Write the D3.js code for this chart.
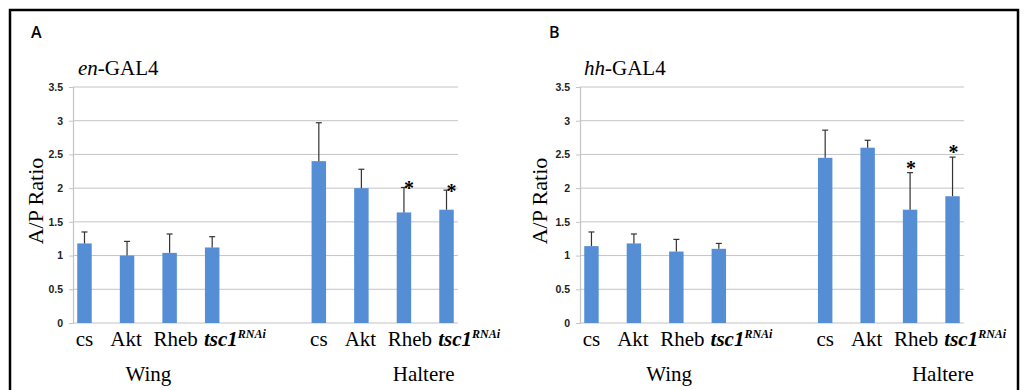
<!DOCTYPE html>
<html>
<head>
<meta charset="utf-8">
<script src="https://cdn.jsdelivr.net/npm/d3@7/dist/d3.min.js"></script>
<style>
  html, body { margin: 0; padding: 0; background: #fff; }
  svg { display: block; }
</style>
</head>
<body>
<svg id="chart" width="1025" height="390"></svg>
<script>
// ---- data ----
const groups = ["Wing", "Haltere"];
const genotypes = ["cs", "Akt", "Rheb", "tsc1"];
const panelLetters = ["A", "B"];
const drivers = ["en", "hh"];
const yTicks = [0, 0.5, 1, 1.5, 2, 2.5, 3, 3.5];
const yLabel = "A/P Ratio";

const enMeans  = [1.18, 1.00, 1.04, 1.12, 2.40, 2.00, 1.64, 1.68];
const enErrors = [0.17, 0.21, 0.28, 0.16, 0.57, 0.28, 0.37, 0.29];
const enStars  = [0, 0, 0, 0, 0, 0, 1, 1];

const hhMeans  = [1.14, 1.18, 1.06, 1.10, 2.45, 2.60, 1.68, 1.88];
const hhErrors = [0.21, 0.14, 0.18, 0.08, 0.41, 0.11, 0.55, 0.58];
const hhStars  = [0, 0, 0, 0, 0, 0, 1, 1];

// ---- layout / style ----
const svg = d3.select("#chart");
const SERIF = "Liberation Serif, Times New Roman, serif";
const SANS = "Open Sans, Liberation Sans, Arial, sans-serif";
const TICKFONT = "Liberation Sans, Arial, sans-serif";
const BAR = "#558ed5";
const GRID = "#c4c4c4";

svg.append("rect").attr("x", 0).attr("y", 0).attr("width", 1025).attr("height", 390).attr("fill", "#fff");
svg.append("rect").attr("x", 10).attr("y", 10).attr("width", 1008).attr("height", 392)
  .attr("fill", "none").attr("stroke", "#000").attr("stroke-width", 2.5);

const panels = [
  { letter: panelLetters[0], driver: drivers[0], means: enMeans, errors: enErrors, stars: enStars,
    x0: 73, x1: 458, letterX: 31, titleX: 78, yLabelX: 36, groupDx: [0, 41], starDx: 5, starDy: -1 },
  { letter: panelLetters[1], driver: drivers[1], means: hhMeans, errors: hhErrors, stars: hhStars,
    x0: 580, x1: 964, letterX: 549, titleX: 584, yLabelX: 540, groupDx: [14, 54], starDx: 1, starDy: -7 }
];

const y = d3.scaleLinear().domain([0, 3.5]).range([323, 87]);

panels.forEach(p => {
  const g = svg.append("g");
  const outer = d3.scaleBand().domain(groups).range([p.x0, p.x1]).paddingInner(0.357).paddingOuter(0);
  const inner = d3.scaleBand().domain(genotypes).range([0, outer.bandwidth()]).paddingInner(0.66).paddingOuter(0.1);

  const rows = [];
  groups.forEach((grp, gi) => genotypes.forEach((gt, ti) => {
    const i = gi * genotypes.length + ti;
    rows.push({ grp, gt, mean: p.means[i], err: p.errors[i], star: p.stars[i] });
  }));
  const bx = d => outer(d.grp) + inner(d.gt);
  const cx = d => bx(d) + inner.bandwidth() / 2;

  // gridlines
  g.selectAll(".grid").data(yTicks.filter(t => t > 0)).enter().append("line")
    .attr("x1", p.x0).attr("x2", p.x1)
    .attr("y1", d => y(d)).attr("y2", d => y(d))
    .attr("stroke", GRID).attr("stroke-width", 1);

  // y axis
  const yAxis = d3.axisLeft(y).tickValues(yTicks).tickSize(4).tickPadding(6)
    .tickFormat(d3.format("~g"));
  const ya = g.append("g").attr("transform", `translate(${p.x0},0)`).call(yAxis);
  ya.select(".domain").attr("stroke", GRID).attr("stroke-width", 1.2);
  ya.selectAll(".tick line").attr("stroke", GRID);
  ya.selectAll(".tick text").attr("font-family", TICKFONT).attr("font-weight", "bold")
    .attr("font-size", "10.5px").attr("fill", "#222");

  // x axis baseline
  g.append("line").attr("x1", p.x0).attr("x2", p.x1).attr("y1", y(0)).attr("y2", y(0))
    .attr("stroke", GRID).attr("stroke-width", 1.2);

  // bars
  g.selectAll(".bar").data(rows).enter().append("rect")
    .attr("x", bx).attr("width", inner.bandwidth())
    .attr("y", d => y(d.mean)).attr("height", d => y(0) - y(d.mean))
    .attr("fill", BAR);

  // error bars (upper only)
  g.selectAll(".err").data(rows).enter().append("line")
    .attr("x1", cx).attr("x2", cx)
    .attr("y1", d => y(d.mean)).attr("y2", d => y(d.mean + d.err))
    .attr("stroke", "#333").attr("stroke-width", 1.2);
  g.selectAll(".cap").data(rows).enter().append("line")
    .attr("x1", d => cx(d) - 3).attr("x2", d => cx(d) + 3)
    .attr("y1", d => y(d.mean + d.err)).attr("y2", d => y(d.mean + d.err))
    .attr("stroke", "#333").attr("stroke-width", 1.2);

  // asterisks
  g.selectAll(".star").data(rows.filter(d => d.star)).enter().append("text")
    .attr("x", d => cx(d) + p.starDx).attr("y", d => y(d.mean + d.err) + p.starDy + 9)
    .attr("text-anchor", "middle").attr("font-family", SERIF).attr("font-weight", "bold")
    .attr("font-size", "20px").attr("fill", "#000").text("*");

  // category labels
  rows.forEach(d => {
    if (d.gt === "tsc1") {
      const t = g.append("text").attr("x", bx(d) - 1).attr("y", 346)
        .attr("font-family", SERIF).attr("font-size", "21px").attr("fill", "#000");
      t.append("tspan").attr("font-style", "italic").attr("font-weight", "bold").text("tsc1");
      t.append("tspan").attr("font-style", "italic").attr("font-weight", "bold")
        .attr("font-size", "12px").attr("dy", -8).text("RNAi");
    } else {
      g.append("text").attr("x", cx(d) + (d.gt === "Rheb" ? 6 : d.gt === "cs" ? 0 : -1)).attr("y", 346)
        .attr("text-anchor", "middle").attr("font-family", SERIF).attr("font-size", "21px")
        .attr("fill", "#000").text(d.gt);
    }
  });

  // group labels
  groups.forEach((grp, gi) => {
    const first = inner(genotypes[0]);
    const last = inner(genotypes[genotypes.length - 1]) + inner.bandwidth();
    g.append("text").attr("x", outer(grp) + (first + last) / 2 + p.groupDx[gi]).attr("y", 381)
      .attr("text-anchor", "middle").attr("font-family", SERIF).attr("font-size", "21px")
      .attr("fill", "#000").text(grp);
  });

  // y label
  g.append("text").attr("transform", `translate(${p.yLabelX + 7},201) rotate(-90)`)
    .attr("text-anchor", "middle").attr("font-family", SERIF).attr("font-size", "22px")
    .attr("fill", "#000").text(yLabel);

  // title
  const title = g.append("text").attr("x", p.titleX).attr("y", 75)
    .attr("font-family", SERIF).attr("font-size", "21px").attr("fill", "#000");
  title.append("tspan").attr("font-style", "italic").text(p.driver);
  title.append("tspan").text("-GAL4");

  // panel letter
  g.append("text").attr("x", p.letterX).attr("y", 38)
    .attr("font-family", SANS).attr("font-weight", 600).attr("font-size", "16px")
    .attr("fill", "#000").text(p.letter);
});
</script>
</body>
</html>
